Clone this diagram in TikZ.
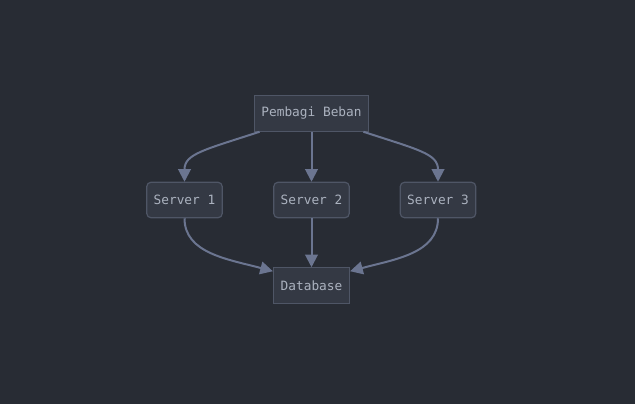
\documentclass[tikz,border=0pt]{standalone}
\usepackage{fontspec}
\setmonofont{DejaVu Sans Mono}
\usetikzlibrary{arrows.meta}
\definecolor{bgcol}{HTML}{282C34}
\definecolor{boxfill}{HTML}{343944}
\definecolor{boxline}{HTML}{4F5666}
\definecolor{txtcol}{HTML}{ABB2BF}
\definecolor{linkcol}{HTML}{6B7590}
\tikzset{
  box/.style={draw=boxline, fill=boxfill, line width=0.9pt, inner sep=0pt,
    minimum height=26.5pt, text=txtcol, font=\ttfamily\fontsize{9.6}{11}\selectfont},
  roundbox/.style={box, rounded corners=3pt},
  link/.style={draw=linkcol, line width=1.5pt, -{Triangle[length=9.5pt,width=9.5pt]}}
}
\begin{document}
\begin{tikzpicture}[x=0.75pt,y=-0.75pt]
   \fill[bgcol] (0,0) rectangle (635,404);
   \node[box, minimum width=86pt] (lb) at (311.5,113.5) {Pembagi Beban};
   \node[roundbox, minimum width=56.5pt] (s1) at (184.5,200) {Server 1};
   \node[roundbox, minimum width=56.5pt] (s2) at (311.5,200) {Server 2};
   \node[roundbox, minimum width=56.5pt] (s3) at (438,200) {Server 3};
   \node[box, minimum width=57pt] (db) at (311.5,285.5) {Database};
   \draw[link] ([xshift=4.5pt]lb.south west) .. controls +(-55,18) and +(0,-28) .. (s1.north);
   \draw[link] (lb.south) -- (s2.north);
   \draw[link] ([xshift=-4.5pt]lb.south east) .. controls +(55,18) and +(0,-28) .. (s3.north);
   \draw[link] (s1.south) .. controls +(0,35) and +(-45,-12) .. ([yshift=-3pt]db.north west);
   \draw[link] (s2.south) -- (db.north);
   \draw[link] (s3.south) .. controls +(0,35) and +(45,-12) .. ([yshift=-3pt]db.north east);
 \end{tikzpicture}
\end{document}
